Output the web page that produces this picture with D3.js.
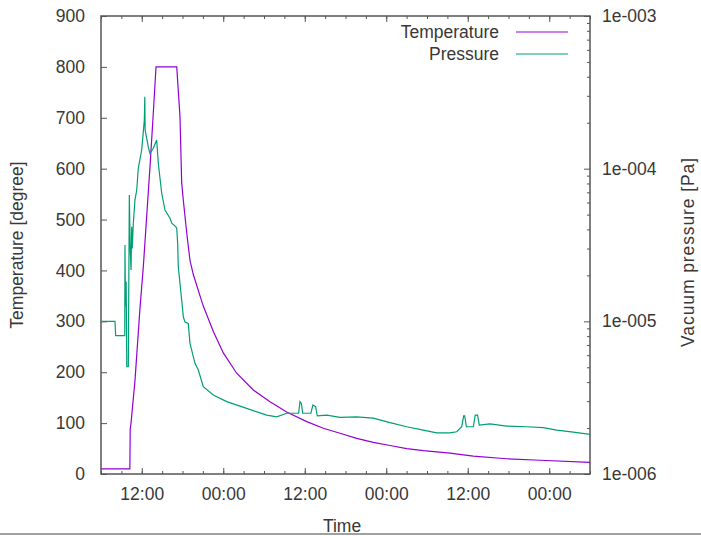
<!DOCTYPE html>
<html>
<head>
<meta charset="utf-8">
<script src="https://cdn.jsdelivr.net/npm/d3@7"></script>
<style>
  body { margin: 0; background: #fff; }
  text { font-family: "Liberation Sans", Arial, sans-serif; fill: #383838; }
</style>
</head>
<body>
<div class="container"></div>
<script>
const WIDTH = 701;
const HEIGHT = 536;
const LEFT = 101, RIGHT = 590, TOP = 16, BOTTOM = 474;

// time axis: hours counted from 06:00 on the first day
const START = Date.UTC(2012, 0, 1, 6);
const HOUR = 3600 * 1000;
const SPAN_HOURS = 72;

var tempHours = [0, 4.25, 4.3, 4.42, 5.0, 5.74, 6.23, 7.21, 7.66, 8.1, 11.15, 11.63, 11.88,
    12.12, 12.62, 13.1, 13.59, 14.58, 15.06, 16.54, 18.01, 19.98, 22.42, 24.88, 27.34, 30.29,
    32.73, 35.19, 37.65, 40.09, 42.55, 45.01, 47.46, 51.39, 54.82, 59.73, 64.64, 72];
var tempValues = [10, 10, 88, 100, 183, 326, 407, 603, 700, 800, 800, 702, 572,
    538, 474, 420, 392, 350, 330, 280, 238, 198, 165, 142, 122, 103,
    90, 80, 70, 62, 56, 50, 46, 41, 35, 30, 27, 23];

var pressHours = [0, 2.06, 2.16, 3.5, 3.53, 3.6, 3.7, 3.8, 4.02, 4.17, 4.3, 4.42, 4.52, 4.6,
    4.76, 5.0, 5.26, 5.49, 5.99, 6.38, 6.45, 6.5, 6.73, 6.96, 7.21, 7.7, 8.2, 8.44, 8.94, 9.42,
    10.16, 10.41, 11.0, 11.15, 11.29, 11.38, 11.63, 11.88, 12.12, 12.37, 12.85, 13.1, 13.84,
    14.33, 15.06, 16.54, 18.51, 21.45, 24.4, 25.87, 27.34, 29.1, 29.3, 29.5, 29.7, 30.9, 31.2,
    31.6, 31.85, 33.23, 35.19, 37.65, 40.09, 42.55, 45.01, 47.46, 49.43, 51.39, 52.37, 53.11,
    53.4, 53.55, 53.8, 54.82, 55.1, 55.45, 55.7, 57.28, 59.73, 62.68, 65.12, 67.1, 69.54, 72];
var pressValues = [1.0e-5, 1.0e-5, 8.05e-6, 8.05e-6, 3.16e-5, 1.25e-5, 1.82e-5, 5.04e-6, 5.04e-6,
    6.72e-5, 3.0e-5, 2.17e-5, 4.17e-5, 3.0e-5, 4.39e-5, 6.23e-5, 7.25e-5, 1.006e-4, 1.325e-4,
    2.08e-4, 2.96e-4, 1.79e-4, 1.58e-4, 1.39e-4, 1.26e-4, 1.36e-4, 1.54e-4, 1.08e-4, 6.9e-5,
    5.36e-5, 4.73e-5, 4.39e-5, 4.17e-5, 4.07e-5, 3.24e-5, 2.28e-5, 1.77e-5, 1.38e-5, 1.07e-5,
    9.9e-6, 9.7e-6, 7.18e-6, 5.31e-6, 4.8e-6, 3.73e-6, 3.29e-6, 2.98e-6, 2.69e-6, 2.43e-6,
    2.37e-6, 2.5e-6, 2.5e-6, 2.98e-6, 2.9e-6, 2.5e-6, 2.5e-6, 2.83e-6, 2.76e-6, 2.4e-6,
    2.43e-6, 2.35e-6, 2.37e-6, 2.32e-6, 2.17e-6, 2.04e-6, 1.94e-6, 1.86e-6, 1.86e-6, 1.89e-6,
    2.04e-6, 2.4e-6, 2.4e-6, 2.04e-6, 2.04e-6, 2.43e-6, 2.43e-6, 2.09e-6, 2.13e-6, 2.06e-6,
    2.04e-6, 2.01e-6, 1.94e-6, 1.88e-6, 1.82e-6];

var tempTicks = [0, 100, 200, 300, 400, 500, 600, 700, 800, 900];
var pressTicks = [1e-6, 1e-5, 1e-4, 1e-3];
var seriesNames = ["Temperature", "Pressure"];
var seriesColors = ["#9400d3", "#009e73"];

var toDate = function (h) { return new Date(START + h * HOUR); };

var xScale = d3.scaleUtc()
    .domain([toDate(0), toDate(SPAN_HOURS)])
    .range([LEFT, RIGHT]);
var yScale = d3.scaleLinear().domain([0, 900]).range([BOTTOM, TOP]);
var y2Scale = d3.scaleLog().domain([1e-6, 1e-3]).range([BOTTOM, TOP]);

var svg = d3.select('.container').append('svg')
    .attr('width', WIDTH)
    .attr('height', HEIGHT)
    .style('display', 'block');

var fontSize = '17.5px';

var styleAxis = function (g) {
    g.select('.domain').remove();
    g.selectAll('.tick line').attr('stroke', '#555');
    g.selectAll('text').attr('font-size', fontSize).attr('fill', '#383838')
        .attr('font-family', '"Liberation Sans", Arial, sans-serif');
};

// x axis, bottom: major with labels, minor every 3 h
svg.append('g').attr('transform', 'translate(0,' + BOTTOM + ')')
    .call(d3.axisBottom(xScale).ticks(d3.utcHour.every(3)).tickSize(-3).tickFormat(''))
    .call(styleAxis);
svg.append('g').attr('transform', 'translate(0,' + BOTTOM + ')')
    .call(d3.axisBottom(xScale).ticks(d3.utcHour.every(12)).tickSize(-6).tickPadding(14)
        .tickFormat(d3.utcFormat('%H:%M')))
    .call(styleAxis);
// x axis mirrored on top
svg.append('g').attr('transform', 'translate(0,' + TOP + ')')
    .call(d3.axisTop(xScale).ticks(d3.utcHour.every(3)).tickSize(-3).tickFormat(''))
    .call(styleAxis);
svg.append('g').attr('transform', 'translate(0,' + TOP + ')')
    .call(d3.axisTop(xScale).ticks(d3.utcHour.every(12)).tickSize(-6).tickFormat(''))
    .call(styleAxis);

// left axis
svg.append('g').attr('transform', 'translate(' + LEFT + ',0)')
    .call(d3.axisLeft(yScale).tickValues(tempTicks).tickSize(-6).tickPadding(16)
        .tickFormat(d3.format('d')))
    .call(styleAxis);

// right log axis
var minorLog = [];
pressTicks.slice(0, -1).forEach(function (p) {
    for (var k = 2; k < 10; k++) minorLog.push(p * k);
});
svg.append('g').attr('transform', 'translate(' + RIGHT + ',0)')
    .call(d3.axisRight(y2Scale).tickValues(minorLog).tickSize(-3).tickFormat(''))
    .call(styleAxis);
svg.append('g').attr('transform', 'translate(' + RIGHT + ',0)')
    .call(d3.axisRight(y2Scale).tickValues(pressTicks).tickSize(-6).tickPadding(12)
        .tickFormat(function (p) {
            return '1e-' + String(-Math.round(Math.log10(p))).padStart(3, '0');
        }))
    .call(styleAxis);

// border
svg.append('rect')
    .attr('x', LEFT).attr('y', TOP)
    .attr('width', RIGHT - LEFT).attr('height', BOTTOM - TOP)
    .attr('fill', 'none').attr('stroke', '#555').attr('stroke-width', 1.5);

// series
var tempLine = d3.line()
    .x(function (d, i) { return xScale(toDate(tempHours[i])); })
    .y(function (d) { return yScale(d); });
var pressLine = d3.line()
    .x(function (d, i) { return xScale(toDate(pressHours[i])); })
    .y(function (d) { return y2Scale(d); });

svg.append('path').attr('d', tempLine(tempValues))
    .attr('fill', 'none').attr('stroke', seriesColors[0]).attr('stroke-width', 1.2);
svg.append('path').attr('d', pressLine(pressValues))
    .attr('fill', 'none').attr('stroke', seriesColors[1]).attr('stroke-width', 1.2);

// legend
var legend = svg.append('g').selectAll('g').data(seriesNames).enter().append('g')
    .attr('transform', function (d, i) { return 'translate(0,' + (32 + i * 22) + ')'; });
legend.append('text')
    .attr('x', 499).attr('dy', '0.35em')
    .attr('text-anchor', 'end')
    .attr('font-size', fontSize)
    .text(function (d) { return d; });
legend.append('line')
    .attr('x1', 516).attr('x2', 568)
    .attr('stroke', function (d, i) { return seriesColors[i]; })
    .attr('stroke-width', 1.2);

// axis titles
svg.append('text')
    .attr('transform', 'translate(23,245) rotate(-90)')
    .attr('text-anchor', 'middle')
    .attr('font-size', fontSize)
    .text('Temperature [degree]');
svg.append('text')
    .attr('transform', 'translate(694,252) rotate(-90)')
    .attr('text-anchor', 'middle')
    .attr('font-size', fontSize)
    .attr('letter-spacing', '0.9px')
    .text('Vacuum pressure [Pa]');
svg.append('text')
    .attr('x', 342).attr('y', 532)
    .attr('text-anchor', 'middle')
    .attr('font-size', fontSize)
    .text('Time');

// window edge line at the bottom of the snapshot
svg.append('rect')
    .attr('x', 0).attr('y', 533).attr('width', WIDTH).attr('height', 2)
    .attr('fill', '#a0a0a0');
</script>
</body>
</html>
